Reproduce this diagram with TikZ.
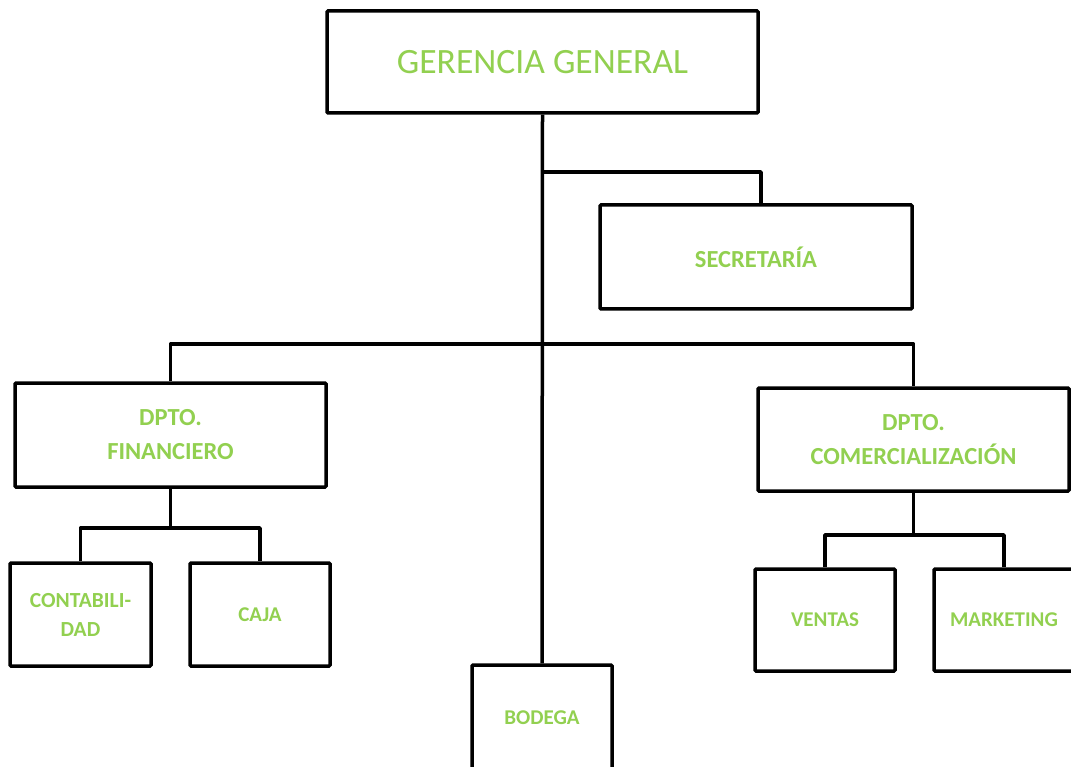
\documentclass[tikz,border=0pt]{standalone}
\usepackage{fontspec}
\setmainfont{Carlito}
\definecolor{txtgreen}{HTML}{92D050}
\begin{document}
\begin{tikzpicture}[x=1pt,y=-1pt,
  box/.style={draw=black,line width=3.5pt,fill=white,rounded corners=1pt,inner sep=0pt,
    text=txtgreen,font=\fontsize{24.5}{34}\selectfont\bfseries,align=center},
  small/.style={font=\fontsize{21}{29}\selectfont\bfseries},
  link/.style={draw=black,line width=3.5pt,line join=round}]
\useasboundingbox (0,0) rectangle (1071,767);
\node[box,minimum width=431pt,minimum height=102pt,font=\fontsize{35.6}{40}\selectfont] (ger) at (542.5,62) {GERENCIA GENERAL};
\node[box,minimum width=312pt,minimum height=104pt] (sec) at (756,257) {SECRETARÍA};
\node[box,minimum width=311pt,minimum height=104pt] (fin) at (170.5,435) {DPTO.\\FINANCIERO};
\node[box,minimum width=311pt,minimum height=103pt] (com) at (913.5,439.5) {DPTO.\\COMERCIALIZACIÓN};
\node[box,small,font=\fontsize{21.5}{29}\selectfont\bfseries,minimum width=141pt,minimum height=103pt] (con) at (80.5,614.5) {CONTABILI-\\DAD};
\node[box,small,minimum width=140pt,minimum height=103pt] (caj) at (260,614.5) {CAJA};
\node[box,small,minimum width=140pt,minimum height=102pt] (ven) at (825,620) {VENTAS};
\node[box,small,minimum width=140pt,minimum height=102pt] (mar) at (1004,620) {MARKETING};
\node[box,small,minimum width=140pt,minimum height=106pt] (bod) at (542,718) {BODEGA};
% junctions
\coordinate (j1) at (542,172);
\coordinate (j2) at (542,344);
\coordinate (j3) at (170.5,528);
\coordinate (j4) at (913.5,535);
\draw[link] (ger.south) -- (bod.north);
\draw[link] (j1) -| ([xshift=5pt]sec.north);
\draw[link] (fin.north) |- (j2) -| (com.north);
\draw[link] (fin.south) -- (j3);
\draw[link] (con.north) |- (j3) -| (caj.north);
\draw[link] (com.south) -- (j4);
\draw[link] (ven.north) |- (j4) -| (mar.north);
\end{tikzpicture}
\end{document}
